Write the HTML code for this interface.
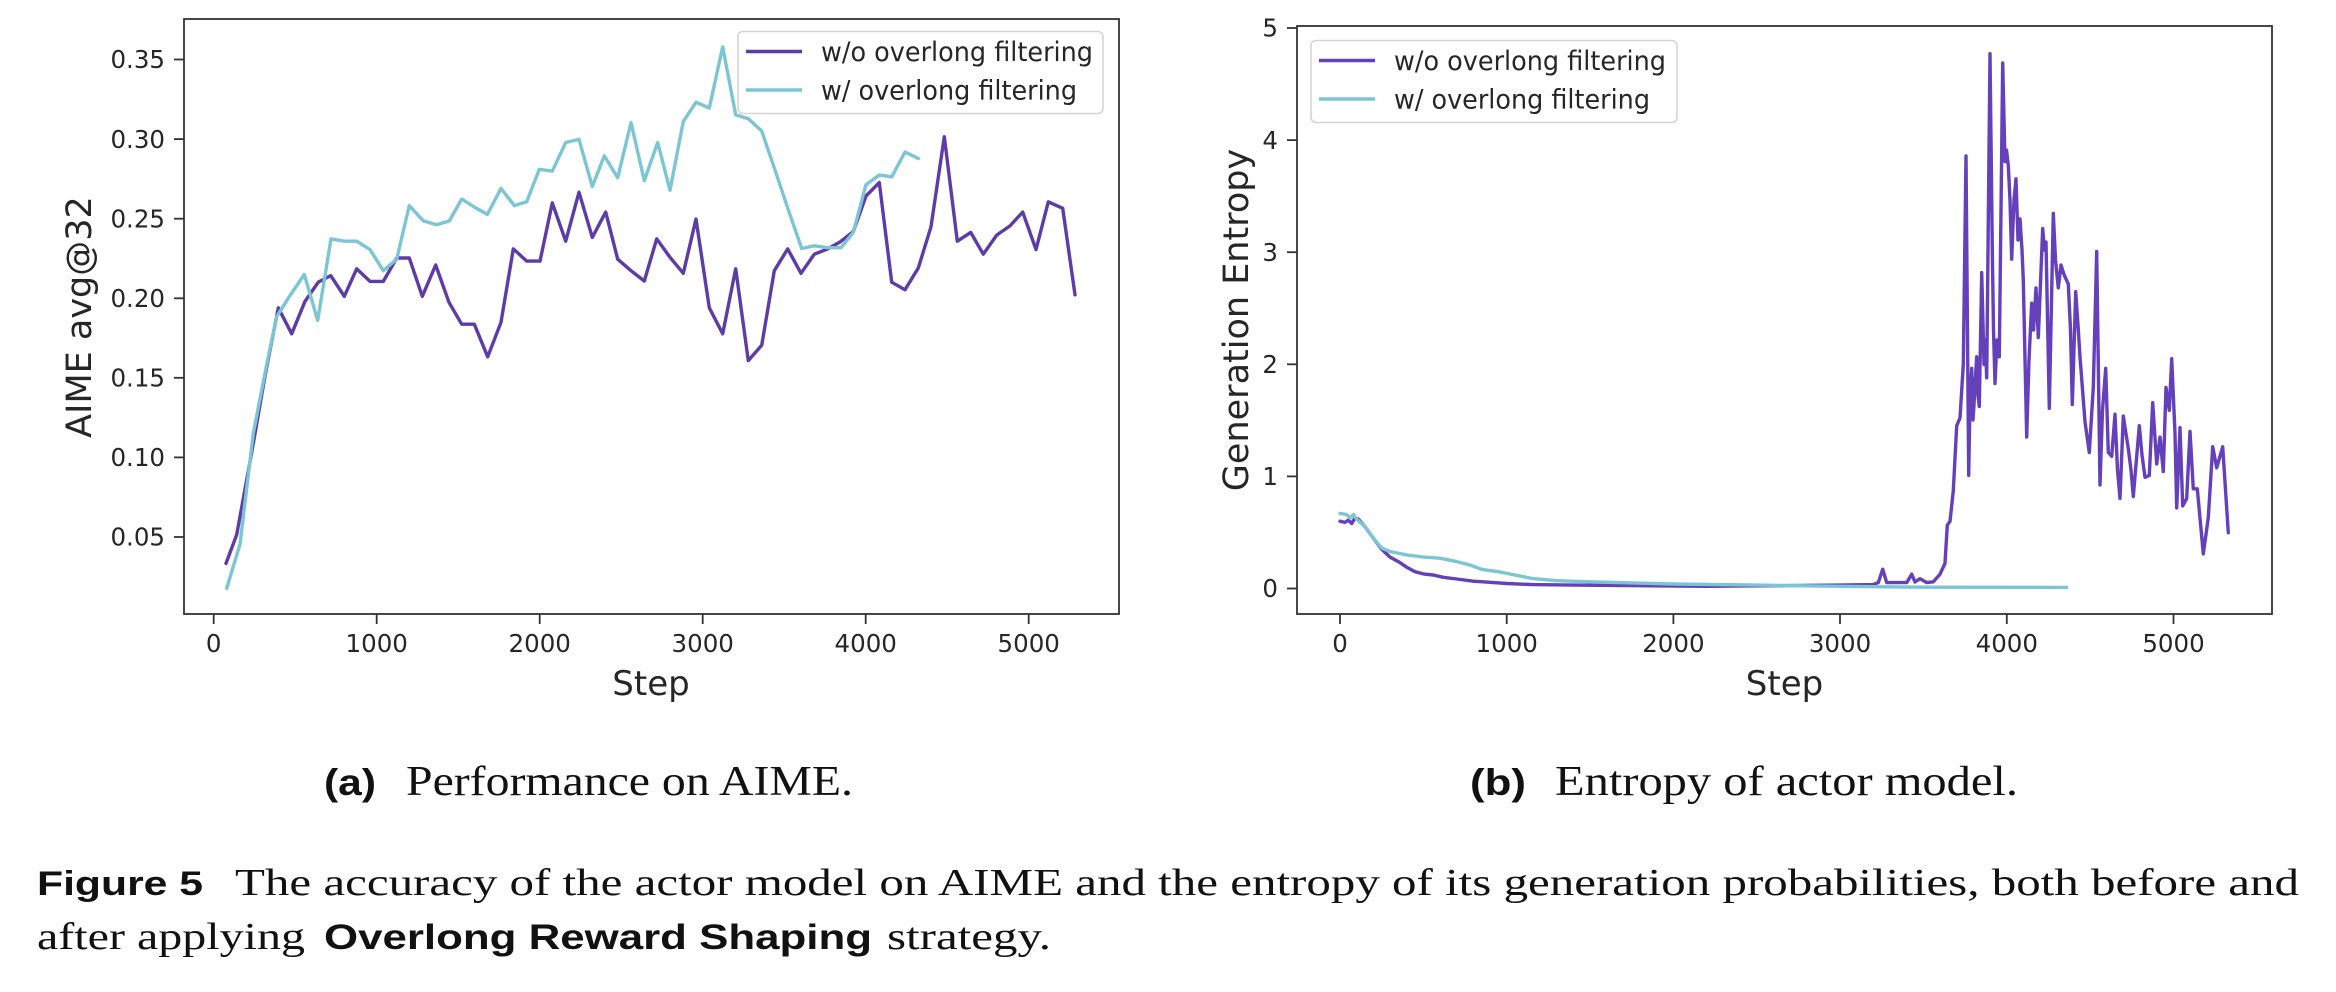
<!DOCTYPE html>
<html><head><meta charset="utf-8"><style>
html,body{margin:0;padding:0;background:#fff;}
svg{display:block;}
</style></head><body>
<svg width="2336" height="992" viewBox="0 0 2336 992" xmlns="http://www.w3.org/2000/svg">
<rect x="0" y="0" width="2336" height="992" fill="#fff"/>

<!-- ===== LEFT PLOT ===== -->
<g font-family="'DejaVu Sans', 'Liberation Sans', sans-serif" fill="#262626">
  <g stroke="#333" stroke-width="1.8">
    <line x1="174" y1="537" x2="184" y2="537"/>
    <line x1="174" y1="457.4" x2="184" y2="457.4"/>
    <line x1="174" y1="377.8" x2="184" y2="377.8"/>
    <line x1="174" y1="298.3" x2="184" y2="298.3"/>
    <line x1="174" y1="218.7" x2="184" y2="218.7"/>
    <line x1="174" y1="139.1" x2="184" y2="139.1"/>
    <line x1="174" y1="59.5" x2="184" y2="59.5"/>
  </g>
  <g font-size="24.5" text-anchor="end">
    <text x="165" y="545.7">0.05</text>
    <text x="165" y="466.1">0.10</text>
    <text x="165" y="386.5">0.15</text>
    <text x="165" y="307">0.20</text>
    <text x="165" y="227.4">0.25</text>
    <text x="165" y="147.8">0.30</text>
    <text x="165" y="68.2">0.35</text>
  </g>
  <g stroke="#333" stroke-width="1.8">
    <line x1="213.7" y1="614" x2="213.7" y2="624"/>
    <line x1="376.7" y1="614" x2="376.7" y2="624"/>
    <line x1="539.7" y1="614" x2="539.7" y2="624"/>
    <line x1="702.7" y1="614" x2="702.7" y2="624"/>
    <line x1="865.7" y1="614" x2="865.7" y2="624"/>
    <line x1="1028.7" y1="614" x2="1028.7" y2="624"/>
  </g>
  <g font-size="24.5" text-anchor="middle">
    <text x="213.7" y="652">0</text>
    <text x="376.7" y="652">1000</text>
    <text x="539.7" y="652">2000</text>
    <text x="702.7" y="652">3000</text>
    <text x="865.7" y="652">4000</text>
    <text x="1028.7" y="652">5000</text>
  </g>
  <text x="651" y="695" font-size="34" text-anchor="middle">Step</text>
  <text transform="translate(91,317) rotate(-90)" font-size="35" text-anchor="middle">AIME avg@32</text>
</g>

<polyline fill="none" stroke="#5d3ca8" stroke-width="3.4" stroke-linejoin="round" stroke-linecap="round"
 points="226,563.4 236.7,534.7 251.7,452.5 265,376 278.3,307.8 291.7,333.8 305,301.3 318.3,282.1 330.7,275.6 344.3,296.3 356.7,268.8 370,281.4 383.3,281.4 396.7,258 409.3,258 422.3,296.3 435.7,265 449,302.4 461.7,324.2 474.3,324.2 487.7,356.8 501,322.3 513.3,248.9 526.7,261.1 540,261.1 552.3,202.9 565.7,241.2 579,192.2 592.3,237.4 605.7,212.1 617.7,259.2 631,270.7 644.3,281 656.7,238.9 670,257.3 683.3,273.3 696,219 709.3,307.8 722.7,333.8 735.7,268.8 748.3,360.6 761.7,345.3 774.3,270.7 787.7,248.9 801,273.3 814.3,254.2 827.7,248.9 840,242 853.3,231.6 866,196 879.3,182.6 891.7,282.2 905,289.8 918.3,268 931,226.7 944.3,136.7 957.3,241.2 970.7,232.4 983.3,254.2 996.7,235.1 1010,225.9 1022.7,212.1 1036,249.6 1048.3,201.8 1062.7,208.3 1075,294.8"/>
<polyline fill="none" stroke="#7cc5d5" stroke-width="3.4" stroke-linejoin="round" stroke-linecap="round"
 points="226.7,588.3 240,544.3 253.3,433.3 266.7,364.4 276.7,316.6 290,295.5 304.3,274.5 317.7,320.4 331,238.9 344.3,241.2 356.7,241.2 370,249.6 383.3,270.7 396.7,259.2 409.3,205.6 423.3,220.9 436.7,224.7 449.3,220.9 461.7,199.1 475,207.5 487.3,214.4 501,188.4 514.3,205.6 526.7,201.8 539.3,169.3 552.3,171.2 565.7,142.5 579,139.4 592.3,186.5 604.3,155.9 617.7,177.7 631,122.6 644.3,180.7 657.7,142.5 670,190.3 683.3,121.4 696,102.3 709.3,108 722.7,46.8 735.7,114.9 748.3,118.7 761.7,131 775,170 788,209 801.7,248.5 814.3,245.8 827.7,247.7 841,247.7 853.3,232.4 866,184.6 879.3,175 891.7,176.9 905,152 918.3,158.5"/>

<rect x="184" y="19" width="935" height="595" fill="none" stroke="#333" stroke-width="1.8"/>

<rect x="738" y="31.5" width="365" height="82" rx="5" fill="#fff" fill-opacity="0.85" stroke="#d4d4d4" stroke-width="1.5"/>
<line x1="746" y1="51.5" x2="802" y2="51.5" stroke="#5d3ca8" stroke-width="3.6"/>
<line x1="746" y1="90" x2="802" y2="90" stroke="#7cc5d5" stroke-width="3.6"/>
<g font-family="'DejaVu Sans', 'Liberation Sans', sans-serif" font-size="27" fill="#262626">
  <text x="821" y="61" textLength="272" lengthAdjust="spacingAndGlyphs">w/o overlong filtering</text>
  <text x="821" y="99.5" textLength="256" lengthAdjust="spacingAndGlyphs">w/ overlong filtering</text>
</g>

<!-- ===== RIGHT PLOT ===== -->
<g font-family="'DejaVu Sans', 'Liberation Sans', sans-serif" fill="#262626">
  <g stroke="#333" stroke-width="1.8">
    <line x1="1287" y1="588.5" x2="1297" y2="588.5"/>
    <line x1="1287" y1="476.4" x2="1297" y2="476.4"/>
    <line x1="1287" y1="364.3" x2="1297" y2="364.3"/>
    <line x1="1287" y1="252.2" x2="1297" y2="252.2"/>
    <line x1="1287" y1="140.1" x2="1297" y2="140.1"/>
    <line x1="1287" y1="28" x2="1297" y2="28"/>
  </g>
  <g font-size="24.5" text-anchor="end">
    <text x="1278" y="597.2">0</text>
    <text x="1278" y="485.1">1</text>
    <text x="1278" y="373">2</text>
    <text x="1278" y="260.9">3</text>
    <text x="1278" y="148.8">4</text>
    <text x="1278" y="36.7">5</text>
  </g>
  <g stroke="#333" stroke-width="1.8">
    <line x1="1340" y1="614" x2="1340" y2="624"/>
    <line x1="1506.7" y1="614" x2="1506.7" y2="624"/>
    <line x1="1673.4" y1="614" x2="1673.4" y2="624"/>
    <line x1="1840" y1="614" x2="1840" y2="624"/>
    <line x1="2006.8" y1="614" x2="2006.8" y2="624"/>
    <line x1="2173.5" y1="614" x2="2173.5" y2="624"/>
  </g>
  <g font-size="24.5" text-anchor="middle">
    <text x="1340" y="652">0</text>
    <text x="1506.7" y="652">1000</text>
    <text x="1673.4" y="652">2000</text>
    <text x="1840" y="652">3000</text>
    <text x="2006.8" y="652">4000</text>
    <text x="2173.5" y="652">5000</text>
  </g>
  <text x="1784.5" y="695" font-size="34" text-anchor="middle">Step</text>
  <text transform="translate(1248,320) rotate(-90)" font-size="35" text-anchor="middle">Generation Entropy</text>
</g>

<polyline fill="none" stroke="#6540bb" stroke-width="3.4" stroke-linejoin="round" stroke-linecap="round"
 points="1340,521.2 1345,522.4 1348.3,520.1 1351.7,523.5 1355,517.9 1358.3,519 1365,526.8 1373.3,538.1 1381.7,549.3 1390,557.1 1398.3,561.6 1406.7,567.2 1415,571.7 1423.3,573.9 1433.3,575 1443.3,577.3 1456.7,579 1473.3,581.2 1490,582.3 1506.7,583.5 1531.7,584.6 1573.3,585.1 1640,585.7 1706.7,586.3 1773.3,585.7 1840,585.1 1873.3,584.6 1878.3,582.6 1882.7,569.2 1886.7,582.6 1906.7,582.6 1911.7,574.2 1915,582 1920,578.7 1926.7,582.6 1933.3,581.8 1940,574.2 1945,563.4 1947.3,525.2 1950,521.3 1953.3,490.7 1956.7,425.7 1960,418 1963.3,364.4 1966,155.9 1968.7,475.4 1970,400 1971.7,368.3 1973,420 1974,404.6 1975.3,380 1976.7,356.8 1978,395 1979.3,406.5 1981.7,272.6 1984,364.4 1985.3,340 1986.7,377.8 1990,53.7 1992.3,249.6 1993.5,330 1995,383.6 1997,340 1999.3,356.8 2002.7,62.9 2005,161.6 2006.5,150 2008.3,165.4 2010,200 2011.7,259.2 2014,200 2016,178.8 2018,240 2020,219 2022,250 2023.3,280.2 2026.7,437.1 2029,360 2031.7,303.2 2033.5,330 2036,287.9 2038.3,337.6 2042.7,228.6 2044.5,250 2046,242 2049.3,408.4 2053.3,213.3 2055.5,260 2058.3,287.9 2061,265 2064,274.5 2068.3,284.1 2070.5,330 2072.3,404.6 2075.7,291.7 2078,325 2080,356.8 2085,421.8 2089.3,452.5 2093.3,387.4 2096.7,251.5 2100,485 2102.5,410 2105.7,368.3 2108.3,452.5 2111.7,456.3 2115,414.2 2117.5,470 2120,498.4 2123.3,416.1 2128.3,448.6 2131,470 2133.3,496.5 2139.3,425.7 2142,455 2145,477.3 2149.3,475.4 2152.7,402.7 2156.7,463.9 2160,437.1 2163.3,471.6 2166,387.4 2169.3,410.3 2171.7,358.7 2175,433.3 2176.7,507.9 2180,427.6 2182.7,506 2186.7,498.4 2190,431.4 2193.3,488.8 2197.3,488.8 2203.3,553.9 2208.3,517.5 2212.7,446.7 2216.7,467.8 2222.7,446.7 2228.3,532.8"/>
<polyline fill="none" stroke="#7cc5d5" stroke-width="3.4" stroke-linejoin="round" stroke-linecap="round"
 points="1340,513.4 1346.7,514.5 1350,517.9 1353.3,514.5 1356.7,519 1365,526.8 1373.3,538.1 1381.7,548.1 1390,551.5 1406.7,554.9 1423.3,557.1 1440,558.2 1456.7,561.6 1470,565 1481.7,569.4 1498.3,571.7 1515,575 1531.7,578.4 1556.7,580.7 1590,581.8 1673.3,584 1756.7,585.1 1840,586.3 1923.3,587.2 2066.7,587.4"/>

<rect x="1297" y="26" width="975" height="588" fill="none" stroke="#333" stroke-width="1.8"/>

<rect x="1311" y="40.5" width="366" height="82" rx="5" fill="#fff" fill-opacity="0.85" stroke="#d4d4d4" stroke-width="1.5"/>
<line x1="1319" y1="60.5" x2="1375" y2="60.5" stroke="#6540bb" stroke-width="3.6"/>
<line x1="1319" y1="99" x2="1375" y2="99" stroke="#7cc5d5" stroke-width="3.6"/>
<g font-family="'DejaVu Sans', 'Liberation Sans', sans-serif" font-size="27" fill="#262626">
  <text x="1394" y="70" textLength="272" lengthAdjust="spacingAndGlyphs">w/o overlong filtering</text>
  <text x="1394" y="108.5" textLength="256" lengthAdjust="spacingAndGlyphs">w/ overlong filtering</text>
</g>

<!-- ===== CAPTIONS ===== -->
<g fill="#111">
  <text x="324" y="795" font-family="'Liberation Sans', sans-serif" font-weight="bold" font-size="37" textLength="52" lengthAdjust="spacingAndGlyphs">(a)</text>
  <text x="406" y="795" font-family="'Liberation Serif', serif" font-size="42" textLength="447" lengthAdjust="spacingAndGlyphs">Performance on AIME.</text>
  <text x="1470" y="795" font-family="'Liberation Sans', sans-serif" font-weight="bold" font-size="37" textLength="56" lengthAdjust="spacingAndGlyphs">(b)</text>
  <text x="1555" y="795" font-family="'Liberation Serif', serif" font-size="42" textLength="463" lengthAdjust="spacingAndGlyphs">Entropy of actor model.</text>

  <text x="37" y="895" font-family="'Liberation Sans', sans-serif" font-weight="bold" font-size="34" textLength="166" lengthAdjust="spacingAndGlyphs">Figure 5</text>
  <text x="235" y="895" font-family="'Liberation Serif', serif" font-size="38" textLength="2064" lengthAdjust="spacingAndGlyphs">The accuracy of the actor model on AIME and the entropy of its generation probabilities, both before and</text>

  <text x="37" y="949" font-family="'Liberation Serif', serif" font-size="38" textLength="268" lengthAdjust="spacingAndGlyphs">after applying</text>
  <text x="324" y="949" font-family="'Liberation Sans', sans-serif" font-weight="bold" font-size="35" textLength="548" lengthAdjust="spacingAndGlyphs">Overlong Reward Shaping</text>
  <text x="887" y="949" font-family="'Liberation Serif', serif" font-size="38" textLength="164" lengthAdjust="spacingAndGlyphs">strategy.</text>
</g>
</svg>
</body></html>
